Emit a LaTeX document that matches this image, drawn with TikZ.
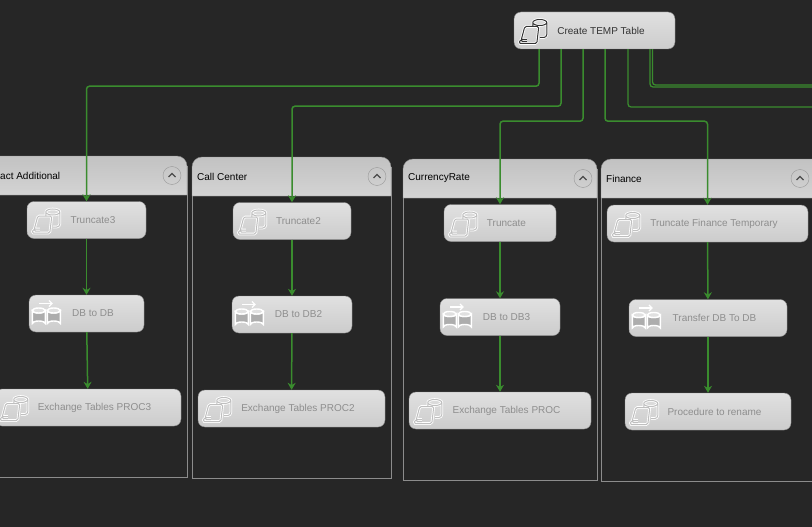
\documentclass[tikz,border=0pt]{standalone}
\usepackage{fontspec}
\setmainfont{Liberation Sans}
\usepackage{xcolor}
\usetikzlibrary{arrows.meta, positioning}

\definecolor{canvasbg}{HTML}{262626}
\definecolor{framegray}{HTML}{8C8C8C}
\definecolor{flowgreen}{HTML}{3A8C2E}
\definecolor{taskink}{HTML}{333333}
\definecolor{dimink}{HTML}{8E8E8E}

\tikzset{
    taskbox/.style={rectangle, draw=#1, rounded corners=7pt, top color=black!12, bottom color=black!20,
        minimum height=37pt, inner sep=0pt, text=dimink, font=\fontsize{10}{12}\selectfont,
        execute at begin node=\hspace*{13pt}},
    taskbox/.default=black!45,
    flow/.style={draw=flowgreen, line width=1.5pt, rounded corners=3pt, -{Stealth[length=7pt,width=8pt]}},
    outflow/.style={draw=flowgreen, line width=1.3pt, rounded corners=3pt},
    grouptitle/.style={anchor=west, inner sep=0pt, text=black, font=\fontsize{10}{12}\selectfont},
    pics/sqlicon/.style={code={
        \foreach \w/\c in {2.6pt/white, 1pt/#1} {
            \draw[line width=\w, draw=\c] (0,-8) arc[start angle=180, end angle=360, x radius=7, y radius=3]
                -- (14,4) arc[start angle=0, end angle=90, radius=3] -- (7,7)
                (0,-8) arc[start angle=180, end angle=0, x radius=7, y radius=3]
                (0,-8) -- (0,-4);
            \draw[line width=\w, draw=\c, rounded corners=1.5pt] (-6,11) -- (-12,11) -- (-8,-4) -- (6,-4)
                -- (4,13) -- (-14,13) -- (-12,9) -- (-6,9);
        }
    }},
    pics/copyicon/.style={code={
        \foreach \cx in {-9,6} {
            \draw[line width=1.4pt, draw=white, fill=black!32] (\cx-6.5,-3) -- (\cx-6.5,10)
                arc[start angle=180, end angle=360, x radius=6.5, y radius=2.5] -- (\cx+6.5,-3)
                arc[start angle=0, end angle=180, x radius=6.5, y radius=2.5] -- cycle;
            \draw[line width=1.4pt, draw=white, fill=black!12] (\cx,-3) ellipse[x radius=6.5, y radius=2.5];
        }
        \draw[line width=1.2pt, draw=white, -{Straight Barb[length=3pt]}] (-9,-10) -- (5,-10);
    }}
}

\begin{document}
\begin{tikzpicture}[x=1pt, y=-1pt, >=Stealth]
    \useasboundingbox (0,0) rectangle (812,527);
    \clip (0,0) rectangle (812,527);
    \fill[canvasbg] (0,0) rectangle (812,527);

    % the four containers
    \foreach \xa/\ya/\xb/\yb/\yh/\bx/\tx/\nm/\ttl in {
        -20/156/187/477/195/172/0/fact/act Additional,
        192/157/391/478/196/377/197/call/Call Center,
        403/159/597/480/198/583/408/rate/CurrencyRate,
        601/159/830/481/198/800/606/fin/Finance} {
        \draw[framegray, fill=black!85!white] (\xa,\ya+10) rectangle (\xb,\yb);
        \draw[framegray, top color=black!24, bottom color=black!17]
            (\xa,\yh) [rounded corners=10pt] -- (\xa,\ya) -- (\xb,\ya) [sharp corners] -- (\xb,\yh) -- cycle;
        \node[grouptitle] (title\nm) at (\tx,\ya+19.5) {\ttl};
        \node[circle, draw=black!40, minimum size=18pt, inner sep=0pt] (btn\nm) at (\bx,\ya+19.5) {};
        \draw[line width=1.2pt, black!70] ([xshift=-3.5pt,yshift=-1.5pt]btn\nm.center) -- ([yshift=2pt]btn\nm.center)
            -- ([xshift=3.5pt,yshift=-1.5pt]btn\nm.center);
    }

    % tasks
    \node[taskbox=black!50, text=taskink, minimum width=161pt] (temp) at (594.5,30.5) {Create TEMP Table};

    \node[taskbox, minimum width=119pt] (trunc3) at (86.5,220) {Truncate3};
    \node[taskbox, minimum width=115pt] (dbdb) at (86.5,313.5) {DB to DB};
    \node[taskbox, minimum width=186pt] (proc3) at (88,407.5) {Exchange Tables PROC3};

    \node[taskbox, minimum width=118pt] (trunc2) at (292,221) {Truncate2};
    \node[taskbox, minimum width=120pt] (dbdb2) at (292,314.5) {DB to DB2};
    \node[taskbox, minimum width=187pt] (proc2) at (291.5,408.5) {Exchange Tables PROC2};

    \node[taskbox, minimum width=112pt] (trunc) at (500,223) {Truncate};
    \node[taskbox, minimum width=120pt] (dbdb3) at (500,317) {DB to DB3};
    \node[taskbox, minimum width=182pt] (proc) at (500,410.5) {Exchange Tables PROC};

    \node[taskbox, minimum width=201pt] (truncfin) at (707.5,223.5) {Truncate Finance Temporary};
    \node[taskbox, minimum width=158pt] (transfer) at (708,318) {Transfer DB To DB};
    \node[taskbox, minimum width=166pt] (rename) at (708,411.5) {Procedure to rename};

    % icons
    \pic at ([xshift=19pt]temp.west) {sqlicon=black!80};
    \foreach \nd in {trunc3, proc3, trunc2, proc2, trunc, proc, truncfin, rename} {
        \pic at ([xshift=19pt]\nd.west) {sqlicon=black!25};
    }
    \foreach \nd in {dbdb, dbdb2, dbdb3, transfer} {
        \pic at ([xshift=19pt]\nd.west) {copyicon};
    }

    % connectors
    \coordinate (exit1) at (812,107);
    \coordinate (exit2) at (812,87);
    \coordinate (exit3) at (812,85);

    \draw[flow] ([xshift=-55.5pt]temp.south) -- ++(0,37) -| (trunc3.north);
    \draw[flow] ([xshift=-33.5pt]temp.south) -- ++(0,57) -| (trunc2.north);
    \draw[flow] ([xshift=-11.5pt]temp.south) -- ++(0,72) -| (trunc.north);
    \draw[flow] ([xshift=10.5pt]temp.south) -- ++(0,72) -| (truncfin.north);
    \draw[outflow] ([xshift=33.5pt]temp.south) |- (exit1);
    \draw[outflow] ([xshift=55.5pt]temp.south) |- (exit2);
    \draw[outflow] ([xshift=58pt]temp.south) |- (exit3);

    \draw[flow] (trunc3) -- (dbdb);
    \draw[flow] (dbdb) -- (proc3);
    \draw[flow] (trunc2) -- (dbdb2);
    \draw[flow] (dbdb2) -- (proc2);
    \draw[flow] (trunc) -- (dbdb3);
    \draw[flow] (dbdb3) -- (proc);
    \draw[flow] (truncfin) -- (transfer);
    \draw[flow] (transfer) -- (rename);
\end{tikzpicture}
\end{document}
